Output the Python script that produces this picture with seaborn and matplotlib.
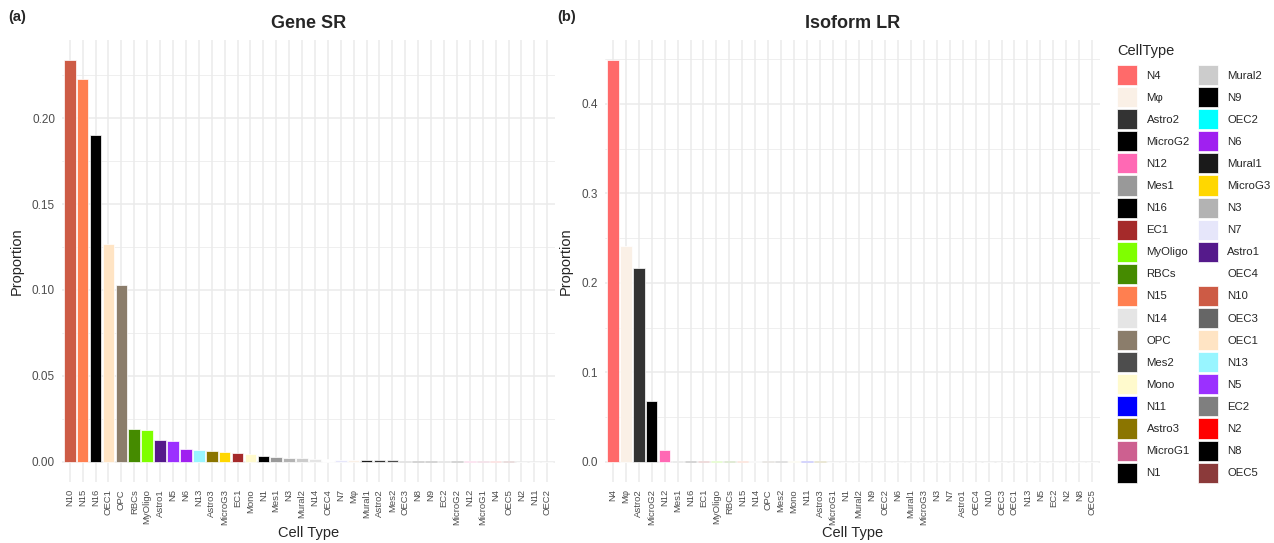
import numpy as np
import pandas as pd
import matplotlib
matplotlib.use("Agg")
import matplotlib.pyplot as plt
from matplotlib.patches import Patch
from matplotlib.ticker import MultipleLocator, FormatStrFormatter
import seaborn as sns

# colour for each cell type (legend order)
legend_order = ["N4", "Mφ", "Astro2", "MicroG2", "N12", "Mes1", "N16", "EC1", "MyOligo", "RBCs",
                "N15", "N14", "OPC", "Mes2", "Mono", "N11", "Astro3", "MicroG1", "N1",
                "Mural2", "N9", "OEC2", "N6", "Mural1", "MicroG3", "N3", "N7", "Astro1", "OEC4",
                "N10", "OEC3", "OEC1", "N13", "N5", "EC2", "N2", "N8", "OEC5"]
legend_colors = ["#FF6A6A", "#FAF0E6", "#333333", "#000000", "#FF69B4", "#999999", "#000000", "#A52A2A",
                 "#7FFF00", "#458B00", "#FF7F50", "#E5E5E5", "#8B7D6B", "#4D4D4D", "#FFFACD", "#0000FF",
                 "#8B7500", "#CD6090", "#000000",
                 "#CCCCCC", "#000000", "#00FFFF", "#A020F0", "#1A1A1A", "#FFD700", "#B3B3B3", "#E6E6FA",
                 "#551A8B", "#FFFFFF", "#CD5B45", "#666666", "#FFE4C4", "#98F5FF", "#9B30FF", "#7F7F7F",
                 "#FF0000", "#000000", "#8B3A3A"]
palette = dict(zip(legend_order, legend_colors))

# Gene SR proportions
gene_types = ["N10", "N15", "N16", "OEC1", "OPC", "RBCs", "MyOligo", "Astro1", "N5", "N6", "N13",
              "Astro3", "MicroG3", "EC1", "Mono", "N1", "Mes1", "N3", "Mural2", "N14", "OEC4", "N7",
              "Mφ", "Mural1", "Astro2", "Mes2", "OEC3", "N8", "N9", "EC2", "MicroG2", "N12", "MicroG1",
              "N4", "OEC5", "N2", "N11", "OEC2"]
gene_prop = [0.2337, 0.2227, 0.1900, 0.1267, 0.1029, 0.0192, 0.0186, 0.0128, 0.0122, 0.0076, 0.0070,
             0.0064, 0.0058, 0.0052, 0.0048, 0.0035, 0.0030, 0.0024, 0.0020, 0.0017, 0.0015, 0.0013,
             0.0012, 0.0010, 0.0009, 0.0009, 0.0008, 0.0007, 0.0007, 0.0006, 0.0006, 0.0004, 0.0003,
             0.0003, 0.0003, 0.0002, 0.0002, 0.0002]

# Isoform LR proportions
iso_types = legend_order
iso_prop = [0.4490, 0.2410, 0.2170, 0.0680, 0.0134, 0.0012, 0.0011, 0.0010, 0.0009, 0.0008,
            0.0007, 0.0006, 0.0006, 0.0006, 0.0005, 0.0005, 0.0005, 0.0004, 0.0004,
            0.0004, 0.0004, 0.0003, 0.0003, 0.0003, 0.0003, 0.0003, 0.0003, 0.0003, 0.0002,
            0.0002, 0.0002, 0.0002, 0.0002, 0.0002, 0.0002, 0.0002, 0.0001, 0.0001]

sns.set_style("white")
plt.rcParams["font.family"] = ["Liberation Sans", "DejaVu Sans"]

W, H = 1274, 543
fig = plt.figure(figsize=(W / 100, H / 100), dpi=100)


def panel(rect, types, props, title, tag, step, fmt):
    ax = fig.add_axes(rect)
    df = pd.DataFrame({"CellType": types, "Proportion": props})
    sns.barplot(data=df, x="CellType", y="Proportion", hue="CellType", order=types,
                palette=palette, legend=False, width=0.9, saturation=1, edgecolor="white",
                linewidth=0.5, ax=ax)
    n = len(types)
    ymax = max(props)
    ax.set_xlim(-0.6, n - 0.4)
    ax.set_ylim(-0.05 * ymax, ymax * 1.05)
    ax.yaxis.set_major_locator(MultipleLocator(step))
    ax.yaxis.set_minor_locator(MultipleLocator(step / 2))
    ax.yaxis.set_major_formatter(FormatStrFormatter(fmt))
    ax.set_axisbelow(True)
    ax.grid(which="major", axis="both", color="#EBEBEB", linewidth=1.1)
    ax.grid(which="minor", axis="y", color="#EBEBEB", linewidth=0.55)
    for s in ax.spines.values():
        s.set_visible(False)
    ax.tick_params(axis="both", which="both", length=0)
    ax.tick_params(axis="y", labelsize=8.5, labelcolor="#4D4D4D", pad=5)
    ax.tick_params(axis="x", labelsize=6.8, labelcolor="#4D4D4D", pad=5)
    plt.setp(ax.get_xticklabels(), rotation=90, ha="center", va="top")
    ax.set_xlabel("Cell Type", fontsize=10.5, labelpad=1)
    ax.set_ylabel("Proportion", fontsize=10.5, labelpad=6)
    ax.set_title(title, fontsize=13, fontweight="bold", pad=9)
    fig.text(tag[0] / W, 1 - tag[1] / H, tag[2], fontsize=10.5, fontweight="bold",
             ha="left", va="center")
    return ax


panel([62 / W, 61 / H, 493 / W, 442 / H], gene_types, gene_prop, "Gene SR",
      (8, 17, "(a)"), 0.05, "%.2f")
panel([605 / W, 61 / H, 495 / W, 442 / H], iso_types, iso_prop, "Isoform LR",
      (557, 17, "(b)"), 0.1, "%.1f")

handles = [Patch(facecolor=palette[t], edgecolor="white", linewidth=0.5, label=t)
           for t in legend_order]
leg = fig.legend(handles=handles, ncol=2, loc="upper left", bbox_to_anchor=(1108 / W, 1 - 35 / H),
                 frameon=False, title="CellType", fontsize=8.2, title_fontsize=10.5,
                 handlelength=1.78, handleheight=2.33, labelspacing=0.18, handletextpad=0.8,
                 columnspacing=0.7, borderpad=0.3)
leg._legend_box.align = "left"
leg._legend_box.sep = 5.0

fig.savefig("out.png", dpi=100)
